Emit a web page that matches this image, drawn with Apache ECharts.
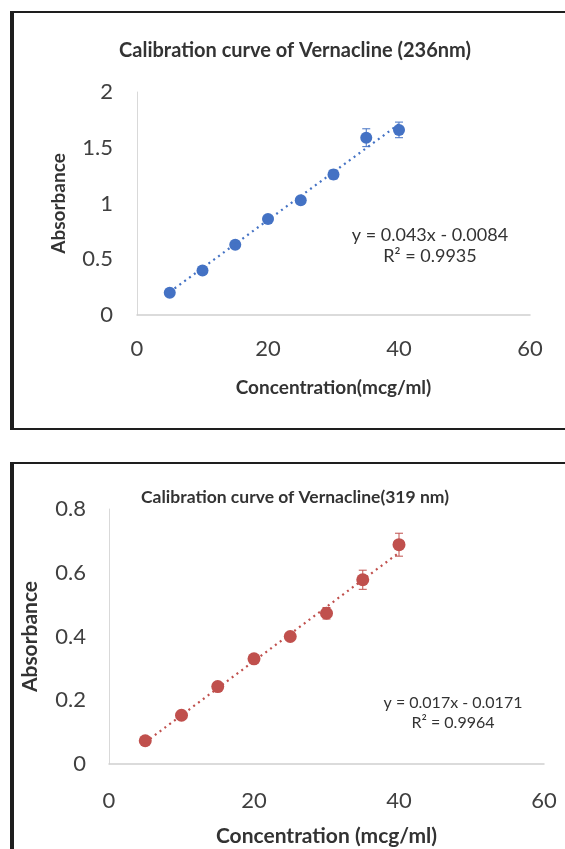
<!DOCTYPE html>
<html>
<head>
<meta charset="utf-8">
<script src="https://cdn.jsdelivr.net/npm/echarts@6/dist/echarts.min.js"></script>
<style>
html,body{margin:0;padding:0;background:#fff;}
#chart{width:565px;height:849px;}
</style>
</head>
<body>
<div id="chart"></div>
<script>
// ---- data ----
const concentrations = [5, 10, 15, 20, 25, 30, 35, 40];
const abs236 = [0.20, 0.40, 0.63, 0.86, 1.03, 1.26, 1.59, 1.66];
const err236 = [0.02, 0.02, 0.02, 0.02, 0.02, 0.04, 0.08, 0.07];
const abs319 = [0.073, 0.153, 0.243, 0.330, 0.400, 0.473, 0.578, 0.688];
const err319 = [0.008, 0.008, 0.008, 0.008, 0.008, 0.018, 0.030, 0.036];
const fit236 = {slope: 0.043, intercept: -0.0084, r2: '0.9935'};
const fit319 = {slope: 0.017, intercept: -0.0171, r2: '0.9964'};
const xTicks = [0, 20, 40, 60];
const title236 = 'Calibration curve of Vernacline (236nm)';
const title319 = 'Calibration curve of Vernacline(319 nm)';

const FONT = 'Lato, "Open Sans", sans-serif';
const BLUE = '#4472C4';
const RED = '#C0504D';

function pts(xs, ys){ return xs.map((x,i)=>[x, ys[i]]); }
function errData(xs, ys, es){ return xs.map((x,i)=>[x, ys[i]-es[i], ys[i]+es[i]]); }
function trend(xs, fit){
  const x0 = xs[0], x1 = xs[xs.length-1];
  return [[x0, fit.slope*x0+fit.intercept],[x1, fit.slope*x1+fit.intercept]];
}
function eqText(fit){ return 'y = ' + fit.slope + 'x - ' + Math.abs(fit.intercept); }
function errRender(color){
  return function(params, api){
    const x = api.value(0);
    const lo = api.coord([x, api.value(1)]);
    const hi = api.coord([x, api.value(2)]);
    const w = 4;
    const st = {stroke: color, lineWidth: 1};
    return {type:'group', children:[
      {type:'line', shape:{x1:lo[0],y1:lo[1],x2:hi[0],y2:hi[1]}, style:st},
      {type:'line', shape:{x1:lo[0]-w,y1:lo[1],x2:lo[0]+w,y2:lo[1]}, style:st},
      {type:'line', shape:{x1:hi[0]-w,y1:hi[1],x2:hi[0]+w,y2:hi[1]}, style:st}
    ]};
  };
}
function xAxis(grid, name, labelSize, margin, nameSize, nameGap){
  return {
    type:'value', gridIndex:grid, min:xTicks[0], max:xTicks[xTicks.length-1],
    interval:xTicks[1]-xTicks[0],
    name:name, nameLocation:'middle', nameGap:nameGap,
    nameTextStyle:{fontFamily:FONT, fontWeight:'bold', fontSize:nameSize, color:'#333'},
    axisLine:{show:true, lineStyle:{color:'#d0d0d0', width:1.5}},
    axisTick:{show:false}, splitLine:{show:false},
    axisLabel:{fontFamily:FONT, fontSize:labelSize, color:'#404040', margin:margin}
  };
}
function yAxis(grid, max, interval, labelSize, margin, nameSize, nameGap){
  return {
    type:'value', gridIndex:grid, min:0, max:max, interval:interval,
    name:'Absorbance', nameLocation:'middle', nameGap:nameGap,
    nameTextStyle:{fontFamily:FONT, fontWeight:'bold', fontSize:nameSize, color:'#333'},
    axisLine:{show:true, lineStyle:{color:'#d9d9d9', width:1}},
    axisTick:{show:false}, splitLine:{show:false},
    axisLabel:{fontFamily:FONT, fontSize:labelSize, color:'#404040', margin:margin}
  };
}

const chart = echarts.init(document.getElementById('chart'), null, {renderer:'canvas'});
chart.setOption({
  animation:false,
  backgroundColor:'#fff',
  title:[
    {text:title236, left:290, top:36, textAlign:'center',
     textStyle:{fontFamily:FONT, fontWeight:'bold', fontSize:20, color:'#333'}},
    {text:title319, left:290, top:483, textAlign:'center',
     textStyle:{fontFamily:FONT, fontWeight:'bold', fontSize:17.5, color:'#333'}}
  ],
  grid:[
    {left:137, top:92, width:393, height:223},
    {left:109, top:509, width:435, height:255}
  ],
  xAxis:[
    xAxis(0, 'Concentration(mcg/ml)', 22, 23, 19, 63),
    xAxis(1, 'Concentration (mcg/ml)', 22, 26, 21, 62)
  ],
  yAxis:[
    yAxis(0, 2, 0.5, 22, 24, 19, 69),
    yAxis(1, 0.8, 0.2, 22, 23, 21, 68)
  ],
  series:[
    {type:'line', xAxisIndex:0, yAxisIndex:0, data:trend(concentrations, fit236),
     symbol:'none', lineStyle:{color:BLUE, width:2.2, type:[2,4]}, z:1},
    {type:'custom', xAxisIndex:0, yAxisIndex:0, data:errData(concentrations, abs236, err236),
     renderItem:errRender(BLUE), z:3},
    {type:'scatter', xAxisIndex:0, yAxisIndex:0, data:pts(concentrations, abs236),
     symbolSize:12, itemStyle:{color:BLUE, opacity:1}, z:2},
    {type:'line', xAxisIndex:1, yAxisIndex:1, data:trend(concentrations, fit319),
     symbol:'none', lineStyle:{color:RED, width:2.2, type:[2,4]}, z:1},
    {type:'custom', xAxisIndex:1, yAxisIndex:1, data:errData(concentrations, abs319, err319),
     renderItem:errRender(RED), z:3},
    {type:'scatter', xAxisIndex:1, yAxisIndex:1, data:pts(concentrations, abs319),
     symbolSize:13, itemStyle:{color:RED, opacity:1}, z:2}
  ],
  graphic:[
    {type:'rect', shape:{x:11, y:12, width:580, height:417}, style:{fill:'none', stroke:'#1e1e1e', lineWidth:2}},
    {type:'line', shape:{x1:12, y1:12, x2:12, y2:429}, style:{stroke:'#1e1e1e', lineWidth:4}},
    {type:'rect', shape:{x:11, y:463, width:580, height:420}, style:{fill:'none', stroke:'#1e1e1e', lineWidth:2}},
    {type:'line', shape:{x1:12, y1:463, x2:12, y2:860}, style:{stroke:'#1e1e1e', lineWidth:4}},
    {type:'text', x:430, y:235, style:{text:eqText(fit236), textAlign:'center', textVerticalAlign:'middle',
      fontFamily:FONT, fontSize:18, fill:'#333'}},
    {type:'text', x:430, y:256, style:{text:'R² = ' + fit236.r2, textAlign:'center', textVerticalAlign:'middle',
      fontFamily:FONT, fontSize:18, fill:'#333'}},
    {type:'text', x:453, y:703, style:{text:eqText(fit319), textAlign:'center', textVerticalAlign:'middle',
      fontFamily:FONT, fontSize:16, fill:'#333'}},
    {type:'text', x:453, y:723, style:{text:'R² = ' + fit319.r2, textAlign:'center', textVerticalAlign:'middle',
      fontFamily:FONT, fontSize:16, fill:'#333'}}
  ]
});
</script>
</body>
</html>
